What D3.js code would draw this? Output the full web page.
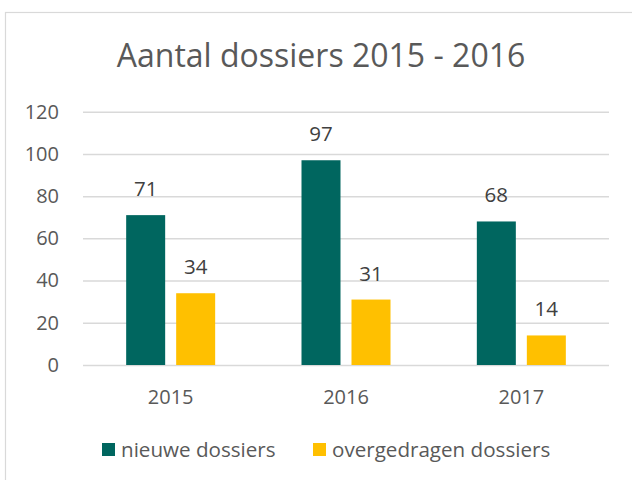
<!DOCTYPE html>
<html>
<head>
<meta charset="utf-8">
<script src="https://cdn.jsdelivr.net/npm/d3@7"></script>
<style>
  body { margin: 0; background: #fff; }
  svg { display: block; font-family: 'Open Sans', sans-serif; }
</style>
</head>
<body>
<div id="vis"></div>
<script>
const years = ['2015', '2016', '2017'];
const series = ['nieuwe dossiers', 'overgedragen dossiers'];
const nieuwe = [71, 97, 68];
const overgedragen = [34, 31, 14];
const yTicks = [0, 20, 40, 60, 80, 100, 120];
const COLORS = ['#00665F', '#FFC000'];

const WIDTH = 632;
const HEIGHT = 480;
const PLOT = { left: 83, right: 609, top: 111.7, bottom: 365 };

const svg = d3.select('#vis').append('svg')
    .attr('width', WIDTH)
    .attr('height', HEIGHT);

// chart frame
svg.append('rect')
    .attr('x', 5.5).attr('y', 12.5)
    .attr('width', 640).attr('height', 480)
    .attr('fill', 'none')
    .attr('stroke', '#d9d9d9')
    .attr('stroke-width', 1.2);

svg.append('text')
    .attr('x', 321).attr('y', 67)
    .attr('text-anchor', 'middle')
    .style('font-size', '32px')
    .style('fill', '#595959')
    .text('Aantal dossiers 2015 - 2016');

const y = d3.scaleLinear().domain([0, 120]).range([PLOT.bottom, PLOT.top]);
const x0 = d3.scaleBand().domain(years).range([PLOT.left, PLOT.right]);
const x1 = d3.scaleBand().domain(series).range([0, 89]).paddingInner(0.22);

// gridlines + tick labels
const yAxis = svg.append('g')
    .attr('transform', `translate(${PLOT.left},0)`)
    .call(d3.axisLeft(y).tickValues(yTicks).tickSize(-(PLOT.right - PLOT.left)).tickPadding(24));
yAxis.select('.domain').remove();
yAxis.selectAll('.tick line').attr('stroke', '#d9d9d9').attr('stroke-width', 1.5);
yAxis.selectAll('.tick text')
    .style('font-size', '20px')
    .style('font-family', 'Open Sans, sans-serif')
    .attr('fill', '#595959');

const rows = years.map((yr, i) => ({ year: yr, values: [nieuwe[i], overgedragen[i]] }));

const group = svg.append('g').selectAll('g')
    .data(rows)
    .join('g')
    .attr('transform', d => `translate(${x0(d.year) + x0.bandwidth() / 2 - 44.5},0)`);

group.selectAll('rect')
    .data(d => d.values.map((v, j) => ({ key: series[j], value: v, j })))
    .join('rect')
    .attr('x', d => x1(d.key))
    .attr('width', x1.bandwidth())
    .attr('y', d => y(d.value))
    .attr('height', d => y(0) - y(d.value))
    .attr('fill', d => COLORS[d.j]);

group.selectAll('text')
    .data(d => d.values.map((v, j) => ({ key: series[j], value: v })))
    .join('text')
    .attr('x', d => x1(d.key) + x1.bandwidth() / 2)
    .attr('y', d => y(d.value) - 19)
    .attr('text-anchor', 'middle')
    .style('font-size', '20.5px')
    .style('fill', '#404040')
    .text(d => d.value);

// category labels
svg.append('g').selectAll('text')
    .data(years)
    .join('text')
    .attr('x', d => x0(d) + x0.bandwidth() / 2)
    .attr('y', 404)
    .attr('text-anchor', 'middle')
    .style('font-size', '20px')
    .style('fill', '#595959')
    .text(d => d);

// legend
const legendX = [102, 313];
const legend = svg.append('g').selectAll('g')
    .data(series)
    .join('g')
    .attr('transform', (d, i) => `translate(${legendX[i]},443)`);
legend.append('rect')
    .attr('width', 13).attr('height', 13)
    .attr('fill', (d, i) => COLORS[i]);
legend.append('text')
    .attr('x', 19).attr('y', 14)
    .style('font-size', '20.6px')
    .style('fill', '#595959')
    .text(d => d);
</script>
</body>
</html>
